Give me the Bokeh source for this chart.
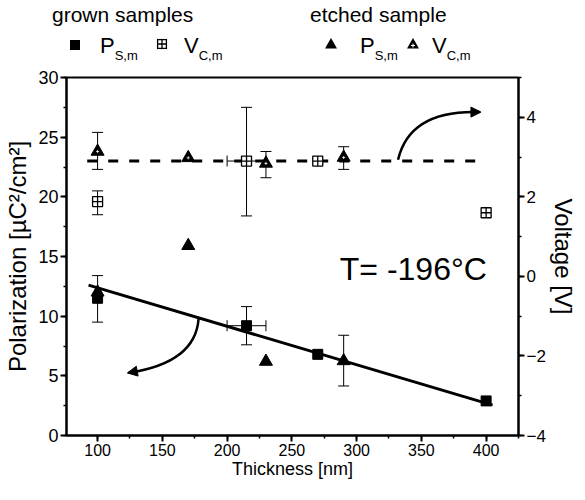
from bokeh.plotting import figure
from bokeh.models import (Range1d, LinearAxis, SingleIntervalTicker, Whisker, TeeHead,
                          ColumnDataSource, Label, Arrow, NormalHead, Div)
from bokeh.layouts import column
from bokeh.embed import file_html
from bokeh.resources import INLINE

FONT = "Liberation Sans"

# ---------------- data ----------------
thick_grown = [100, 215, 270, 400]
ps_grown = [11.5, 9.2, 6.8, 2.9]              # µC/cm²
vc_grown = [1.88, 2.9, 2.9, 1.6]              # V

ps_grown_err_x = [100, 215]
ps_grown_err_lo = [9.5, 7.6]
ps_grown_err_hi = [13.4, 10.8]
ps_grown_xerr_y = [9.2]
ps_grown_xerr_lo = [200]
ps_grown_xerr_hi = [230]

vc_grown_err_x = [100, 215]
vc_grown_err_lo = [1.55, 1.52]
vc_grown_err_hi = [2.15, 4.25]
vc_grown_xerr_y = [2.9]
vc_grown_xerr_lo = [200]
vc_grown_xerr_hi = [230]

thick_etched = [100, 170, 230, 290]
ps_etched = [12.0, 15.9, 6.2, 6.25]
vc_etched = [3.14, 2.98, 2.84, 2.99]

ps_etched_err_x = [290]
ps_etched_err_lo = [4.15]
ps_etched_err_hi = [8.4]

vc_etched_err_x = [100, 230, 290]
vc_etched_err_lo = [2.69, 2.48, 2.69]
vc_etched_err_hi = [3.62, 3.14, 3.26]

fit_x = [93, 405]
fit_ps = [12.6, 2.55]
mean_x = [92, 395]
mean_vc = [2.9, 2.9]

legend_groups = ["grown samples", "etched sample"]
legend_main = ["P", "V", "P", "V"]
legend_sub = ["S,m", "C,m", "S,m", "C,m"]

# ---------------- legend (inline svg text) ----------------
def sym_square(cx, cy, s=10):
    h = s / 2
    return f'<rect x="{cx-h}" y="{cy-h}" width="{s}" height="{s}" fill="black"/>'

def sym_square_cross(cx, cy, s=10):
    h = s / 2
    return (f'<rect x="{cx-h+0.6}" y="{cy-h+0.6}" width="{s-1.2}" height="{s-1.2}" fill="white" '
            f'stroke="black" stroke-width="1.3"/>'
            f'<path d="M{cx-h} {cy} H{cx+h} M{cx} {cy-h} V{cy+h}" stroke="black" stroke-width="1.3"/>')

def sym_triangle(cx, cy, s=12, cross=False):
    h = s / 2
    out = (f'<polygon points="{cx},{cy-h} {cx+h},{cy+h*0.75} {cx-h},{cy+h*0.75}" fill="black"/>')
    if cross:
        out += (f'<path d="M{cx-2} {cy+1.5} H{cx+2} M{cx} {cy-0.5} V{cy+3.5}" '
                f'stroke="white" stroke-width="1"/>')
    return out

def txt(x, y, main, sub=None, size=21):
    s = (f'<text x="{x}" y="{y}" font-family="{FONT}" font-size="{size}px" fill="black">{main}')
    if sub:
        s += f'<tspan dy="7" font-size="13px">{sub}</tspan>'
    return s + '</text>'

off = 8
parts = [
    txt(60 - off, 30 - off, legend_groups[0]),
    txt(318 - off, 30 - off, legend_groups[1]),
    sym_square(83 - off, 53 - off),
    txt(108 - off, 61 - off, legend_main[0], legend_sub[0], 22),
    sym_square_cross(170 - off, 52 - off),
    txt(192 - off, 61 - off, legend_main[1], legend_sub[1], 22),
    sym_triangle(339 - off, 52 - off),
    txt(368 - off, 61 - off, legend_main[2], legend_sub[2], 22),
    sym_triangle(421 - off, 52 - off, cross=True),
    txt(440 - off, 61 - off, legend_main[3], legend_sub[3], 22),
]
svg = ('<svg xmlns="http://www.w3.org/2000/svg" width="569" height="66" '
       'style="display:block">' + "".join(parts) + '</svg>')
legend_div = Div(text=svg, width=569, height=66, margin=0)

# ---------------- main figure ----------------
p = figure(width=569, height=416, frame_width=452, frame_height=358,
           x_range=Range1d(76, 425), y_range=Range1d(0, 30),
           toolbar_location=None, output_backend="svg",
           min_border_left=66, min_border_right=51, min_border_top=11, min_border_bottom=47)
p.extra_y_ranges = {"v": Range1d(-4, 5)}
p.xgrid.visible = False
p.ygrid.visible = False
p.outline_line_color = "black"
p.outline_line_width = 2
p.background_fill_color = "white"
p.border_fill_color = "white"

p.xaxis.ticker = SingleIntervalTicker(interval=50, num_minor_ticks=2)
p.yaxis.ticker = SingleIntervalTicker(interval=5, num_minor_ticks=2)
vax = LinearAxis(y_range_name="v", ticker=SingleIntervalTicker(interval=2, num_minor_ticks=2))
p.add_layout(vax, "right")

for ax in [p.xaxis[0], p.yaxis[0], vax]:
    ax.axis_line_width = 2
    ax.axis_line_color = "black"
    ax.major_tick_line_width = 2
    ax.major_tick_line_color = "black"
    ax.minor_tick_line_width = 1.5
    ax.minor_tick_line_color = "black"
    ax.major_tick_in = 0
    ax.major_tick_out = 6
    ax.minor_tick_in = 0
    ax.minor_tick_out = 3
    ax.major_label_text_font = FONT
    ax.major_label_text_font_size = "18px"
    ax.major_label_text_color = "black"
    ax.major_label_standoff = 2
    ax.axis_label_text_font = FONT
    ax.axis_label_text_font_style = "normal"
    ax.axis_label_text_color = "black"

p.xaxis.major_label_text_font_size = "16px"
p.xaxis.axis_label = "Thickness [nm]"
p.xaxis.axis_label_text_font_size = "18px"
p.xaxis.axis_label_standoff = 0
p.yaxis.axis_label = "Polarization [µC²/cm²]"
p.yaxis.axis_label_text_font_size = "24px"
p.yaxis.axis_label_standoff = 4
vax.axis_label = "Voltage [V]"
vax.axis_label_text_font_size = "24px"
vax.axis_label_standoff = 1
vax.major_label_text_font_size = "17px"

# fit line and mean line
p.line(fit_x, fit_ps, line_color="black", line_width=3)
p.line(mean_x, mean_vc, y_range_name="v", line_color="black", line_width=3, line_dash="10 11")

def whiskers(xs, lo, hi, dim="height", rng="default"):
    src = ColumnDataSource(dict(base=xs, lower=lo, upper=hi))
    w = Whisker(source=src, base="base", lower="lower", upper="upper", dimension=dim,
                line_color="black", line_width=1,
                upper_head=TeeHead(size=11, line_width=1, line_color="black"),
                lower_head=TeeHead(size=11, line_width=1, line_color="black"),
                y_range_name=rng)
    p.add_layout(w)

whiskers(ps_grown_err_x, ps_grown_err_lo, ps_grown_err_hi)
whiskers(ps_grown_xerr_y, ps_grown_xerr_lo, ps_grown_xerr_hi, dim="width")
whiskers(vc_grown_err_x, vc_grown_err_lo, vc_grown_err_hi, rng="v")
whiskers(vc_grown_xerr_y, vc_grown_xerr_lo, vc_grown_xerr_hi, dim="width", rng="v")
whiskers(ps_etched_err_x, ps_etched_err_lo, ps_etched_err_hi)
whiskers(vc_etched_err_x, vc_etched_err_lo, vc_etched_err_hi, rng="v")

# markers
p.scatter(thick_grown, ps_grown, marker="square", size=10, fill_color="black", line_color="black")
p.scatter(thick_etched, ps_etched, marker="triangle", size=13, fill_color="black", line_color="black")
p.scatter(thick_grown, vc_grown, y_range_name="v", marker="square_cross", size=10,
          fill_color="white", line_color="black", line_width=1.3)
p.scatter(thick_etched, vc_etched, y_range_name="v", marker="triangle", size=13,
          fill_color="black", line_color="black", line_width=1)
p.scatter(thick_etched, vc_etched, y_range_name="v", marker="cross", size=3,
          line_color="white", line_width=0.8)

# curved arrows
p.quadratic(x0=[332], y0=[23.1], x1=[395], y1=[27.1], cx=[341], cy=[27.3],
            line_color="black", line_width=2.5)
p.add_layout(Arrow(end=NormalHead(size=10, fill_color="black", line_color="black"),
                   x_start=387, y_start=27.1, x_end=396, y_end=27.1, line_width=0))
p.quadratic(x0=[178], y0=[9.8], x1=[124], y1=[5.26], cx=[175.6], cy=[6.1],
            line_color="black", line_width=2.5)
p.add_layout(Arrow(end=NormalHead(size=10, fill_color="black", line_color="black"),
                   x_start=132, y_start=5.42, x_end=123, y_end=5.24, line_width=0))

# temperature annotation
p.add_layout(Label(x=287, y=13.97, text="T= -196°C", text_font=FONT, text_font_size="32px",
                   text_color="black", text_align="left", text_baseline="alphabetic"))

layout = column(legend_div, p, spacing=0)
open("out.html", "w").write(file_html(layout, INLINE))
